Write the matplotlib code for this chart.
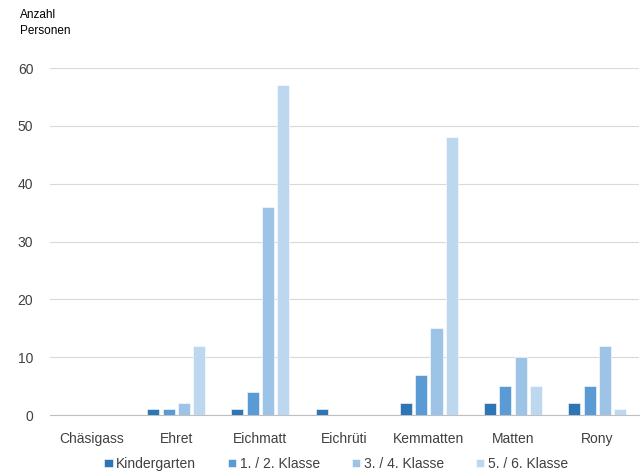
import numpy as np
import matplotlib.pyplot as plt

plt.rcParams['font.family'] = ['Liberation Sans', 'DejaVu Sans']

orte = ['Chäsigass', 'Ehret', 'Eichmatt', 'Eichrüti', 'Kemmatten', 'Matten', 'Rony']
stufen = ['Kindergarten', '1. / 2. Klasse', '3. / 4. Klasse', '5. / 6. Klasse']
kindergarten = [0, 1, 1, 1, 2, 2, 2]
klasse_12 = [0, 1, 4, 0, 7, 5, 5]
klasse_34 = [0, 2, 36, 0, 15, 10, 12]
klasse_56 = [0, 12, 57, 0, 48, 5, 1]
farben = ['#2E75B6', '#5B9BD5', '#9DC3E6', '#BDD7EE']

fig = plt.figure(figsize=(6.4, 4.73), dpi=100)
ax = fig.add_axes([0.078, 0.1226, 0.921, 0.7334])

x = np.arange(len(orte))
breite = 0.143
schritt = 0.182
for i, (werte, name) in enumerate(zip([kindergarten, klasse_12, klasse_34, klasse_56], stufen)):
    ax.bar(x + (i - 1.5) * schritt, werte, width=breite, color=farben[i],
           edgecolor='white', linewidth=0.4, label=name, zorder=3)

ax.set_xlim(-0.5, len(orte) - 0.5)
ax.set_ylim(0, 60)
ax.set_yticks(range(0, 61, 10))
ax.set_xticks(x)
ax.set_xticklabels(orte)
ax.yaxis.grid(True, color='#D9D9D9', linewidth=0.8, zorder=0)
ax.tick_params(axis='both', length=0, labelsize=10, colors='#404040')
ax.tick_params(axis='x', pad=12)
ax.tick_params(axis='y', pad=12)
for s in ['top', 'right', 'left']:
    ax.spines[s].set_visible(False)
ax.spines['bottom'].set_color('#BFBFBF')
ax.spines['bottom'].set_linewidth(0.8)

fig.text(0.031, 0.922, 'Anzahl\nPersonen', fontsize=8.5, color='#000000',
         va='bottom', ha='left', linespacing=1.45)

fig.legend(*ax.get_legend_handles_labels(), loc='upper center',
           bbox_to_anchor=(0.525, 0.034), ncol=4, frameon=False,
           fontsize=10, handlelength=0.6, handleheight=0.6, handletextpad=0.25,
           columnspacing=2.3, labelcolor='#404040', borderaxespad=0, borderpad=0)

fig.savefig('out.png', dpi=100)
